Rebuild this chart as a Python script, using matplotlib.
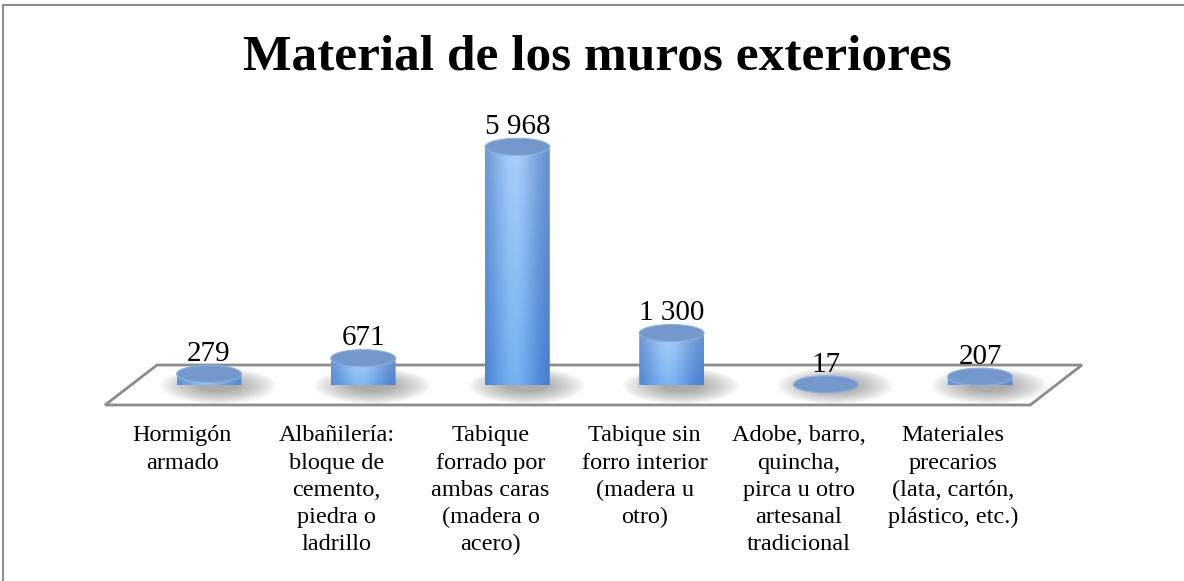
import matplotlib.pyplot as plt
import numpy as np
from matplotlib.patches import Ellipse, Polygon
from matplotlib.lines import Line2D

# Chart data
title = 'Material de los muros exteriores'
categories = [
    'Hormigón\narmado',
    'Albañilería:\nbloque de\ncemento,\npiedra o\nladrillo',
    'Tabique\nforrado por\nambas caras\n(madera o\nacero)',
    'Tabique sin\nforro interior\n(madera u\notro)',
    'Adobe, barro,\nquincha,\npirca u otro\nartesanal\ntradicional',
    'Materiales\nprecarios\n(lata, cartón,\nplástico, etc.)',
]
values = [279, 671, 5968, 1300, 17, 207]
value_labels = ['279', '671', '5 968', '1 300', '17', '207']

plt.rcParams['font.family'] = ['Liberation Serif', 'DejaVu Serif']

W, H = 1184, 581
fig = plt.figure(figsize=(W / 100, H / 100), dpi=100)
fig.patch.set_facecolor('white')

# axes: x = category index, y = value
ax = fig.add_axes([131.9 / W, (H - 385) / H, 925.2 / W, 279.3 / H])
ax.axis('off')

bar_w = 0.42     # cylinder width in category units
ell_h = 430      # ellipse height in value units

# floor (perspective plane)
back_l, back_r = -0.337, 5.661
front_l, front_r = -0.674, 5.326
floor = Polygon([(back_l, 501), (back_r, 501), (front_r, -501), (front_l, -501)],
                closed=True, facecolor='white', edgecolor='#8c8c8c', lw=2,
                clip_on=False, zorder=1)
ax.add_patch(floor)


def cylinder_image(n_rows=200, n_cols=80):
    u = np.linspace(0, 1, n_cols)
    t = np.linspace(0, 1, n_rows)[:, None]
    light = np.exp(-((u - 0.45) / 0.36) ** 2)[None, :]
    edge_bot = np.array([0.25, 0.47, 0.80])
    edge_top = np.array([0.38, 0.55, 0.80])
    cen_bot = np.array([0.45, 0.69, 0.95])
    cen_top = np.array([0.66, 0.81, 0.98])
    edge = edge_bot + (edge_top - edge_bot) * t[..., None]
    cen = cen_bot + (cen_top - cen_bot) * t[..., None]
    img = edge + (cen - edge) * light[..., None]
    return np.clip(img, 0, 1)


n = len(categories)
slot = (front_r - front_l) / n
for i, (v, lab) in enumerate(zip(values, value_labels)):
    x = i
    # soft shadow on the floor
    for k in range(18):
        s = 1.0 - k * 0.04
        ax.add_patch(Ellipse((x + 0.06, -20), bar_w * 1.8 * s, ell_h * 2.1 * s,
                             facecolor='#505050', edgecolor='none', alpha=0.032,
                             zorder=2, clip_on=False))
    # cylinder body
    th = np.linspace(np.pi, 2 * np.pi, 60)
    pts = [(x - bar_w / 2, v)]
    pts += [(x + bar_w / 2 * np.cos(a), ell_h / 2 * np.sin(a)) for a in th]
    pts += [(x + bar_w / 2, v)]
    clip = Polygon(pts, closed=True, transform=ax.transData)
    im = ax.imshow(cylinder_image(), origin='lower', interpolation='bilinear',
                   extent=(x - bar_w / 2, x + bar_w / 2, -ell_h / 2, v),
                   zorder=3, clip_on=True)
    im.set_clip_path(clip)
    # top cap
    ax.add_patch(Ellipse((x, v), bar_w, ell_h, facecolor='#7598cc',
                         edgecolor='#8db0de', lw=0.8, zorder=4, clip_on=False))
    # value label
    ax.annotate(lab, (x, v + ell_h / 2), xytext=(0, 3), textcoords='offset points',
                ha='center', va='baseline', fontsize=21, color='black',
                zorder=5, annotation_clip=False)
    # category label, centred on its slot along the front edge of the floor
    ax.text(front_l + (i + 0.5) * slot, -0.145, categories[i],
            transform=ax.get_xaxis_transform(),
            ha='center', va='top', fontsize=17.5, linespacing=1.38, color='black')

ax.set_xlim(-0.5, 5.5)
ax.set_ylim(0, 7000)
ax.set_aspect('auto')

fig.text(597 / W, 1 - 58 / H, title, ha='center', va='center',
         fontsize=37, fontweight='bold')

# chart frame
fig.add_artist(Line2D([3 / W, 3 / W], [0, 1 - 5 / H], color='#8c8c8c', lw=1.5))
fig.add_artist(Line2D([3 / W, 1], [1 - 5 / H, 1 - 5 / H], color='#8c8c8c', lw=1.5))

fig.savefig('out.png', dpi=100)
